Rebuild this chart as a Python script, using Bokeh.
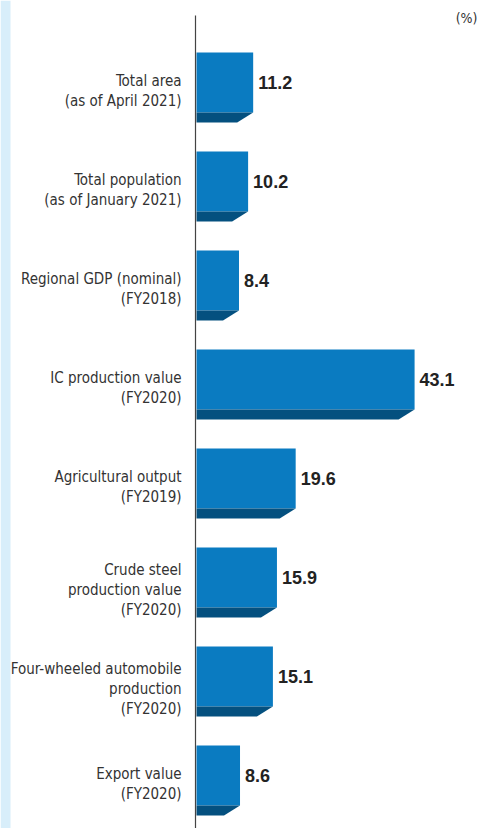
from bokeh.plotting import figure
from bokeh.models import Range1d
from bokeh.core.properties import value
from bokeh.embed import file_html
from bokeh.resources import INLINE

categories = [
    "Total area\n(as of April 2021)",
    "Total population\n(as of January 2021)",
    "Regional GDP (nominal)\n(FY2018)",
    "IC production value\n(FY2020)",
    "Agricultural output\n(FY2019)",
    "Crude steel\nproduction value\n(FY2020)",
    "Four-wheeled automobile\nproduction\n(FY2020)",
    "Export value\n(FY2020)",
]
values = [11.2, 10.2, 8.4, 43.1, 19.6, 15.9, 15.1, 8.6]
unit_label = "(%)"

W, H = 478, 828
PX = 5.06          # pixels per percent
X0 = 196           # figure px of value 0
ROW = 99           # px per row
Y0 = 87            # figure px of first row centre

NARROW = value("'Liberation Sans Narrow', 'DejaVu Sans Condensed', 'Roboto Condensed', Roboto, sans-serif")

xr = Range1d(-X0 / PX, (W - X0) / PX)
yr = Range1d((H - Y0) / ROW, -Y0 / ROW)

p = figure(width=W, height=H, x_range=xr, y_range=yr, output_backend="svg",
           toolbar_location=None, min_border=0, outline_line_color=None,
           background_fill_color="white", border_fill_color="white")
p.axis.visible = False
p.grid.visible = False

def dx(px):
    return px / PX

def dy(px):
    return px / ROW

# light blue strip at the page's left edge
p.quad(left=xr.start, right=xr.start + dx(10), top=yr.end, bottom=yr.start,
       fill_color="#d8eefa", line_color=None)

n = len(values)
ys = list(range(n))

# main faces
p.quad(left=[0] * n, right=values, top=[y - dy(35) for y in ys],
       bottom=[y + dy(25) for y in ys], fill_color="#0a7bc1", line_color=None)

# dark bottom faces (slanted at right end)
xs_list, ys_list = [], []
for v, y in zip(values, ys):
    xs_list.append([0, v, v - dx(16), 0])
    ys_list.append([y + dy(25), y + dy(25), y + dy(35), y + dy(35)])
p.patches(xs_list, ys_list, fill_color="#04507f", line_color=None)

# axis line
p.segment(x0=[dx(-1)], x1=[dx(-1)], y0=[-dy(72)], y1=[yr.start], line_color="#444444",
          line_width=1.2)

# value labels
p.text(x=[v + dx(5) for v in values], y=[y - dy(5) for y in ys],
       text=[f"{v:.1f}" for v in values], text_font=value("Liberation Sans"),
       text_font_style="bold", text_font_size="18px", text_color="#222222",
       text_align="left", text_baseline="middle")

# category labels (one glyph per line)
lx, ly, lt = [], [], []
for cat, y in zip(categories, ys):
    lines = cat.split("\n")
    k = len(lines)
    off = 3 if k == 2 else 7
    for j, t in enumerate(lines):
        lx.append(dx(-15))
        ly.append(y + dy(off + (j - (k - 1) / 2) * 20))
        lt.append(t)
p.text(x=lx, y=ly, text=lt, text_font=NARROW,
       text_font_size="15px", text_color="#333333", text_align="right",
       text_baseline="middle")

# unit label
p.text(x=[xr.end - dx(1)], y=[-dy(70)], text=[unit_label],
       text_font=NARROW, text_font_size="14px",
       text_color="#333333", text_align="right", text_baseline="middle")

open("out.html", "w").write(file_html(p, INLINE))
